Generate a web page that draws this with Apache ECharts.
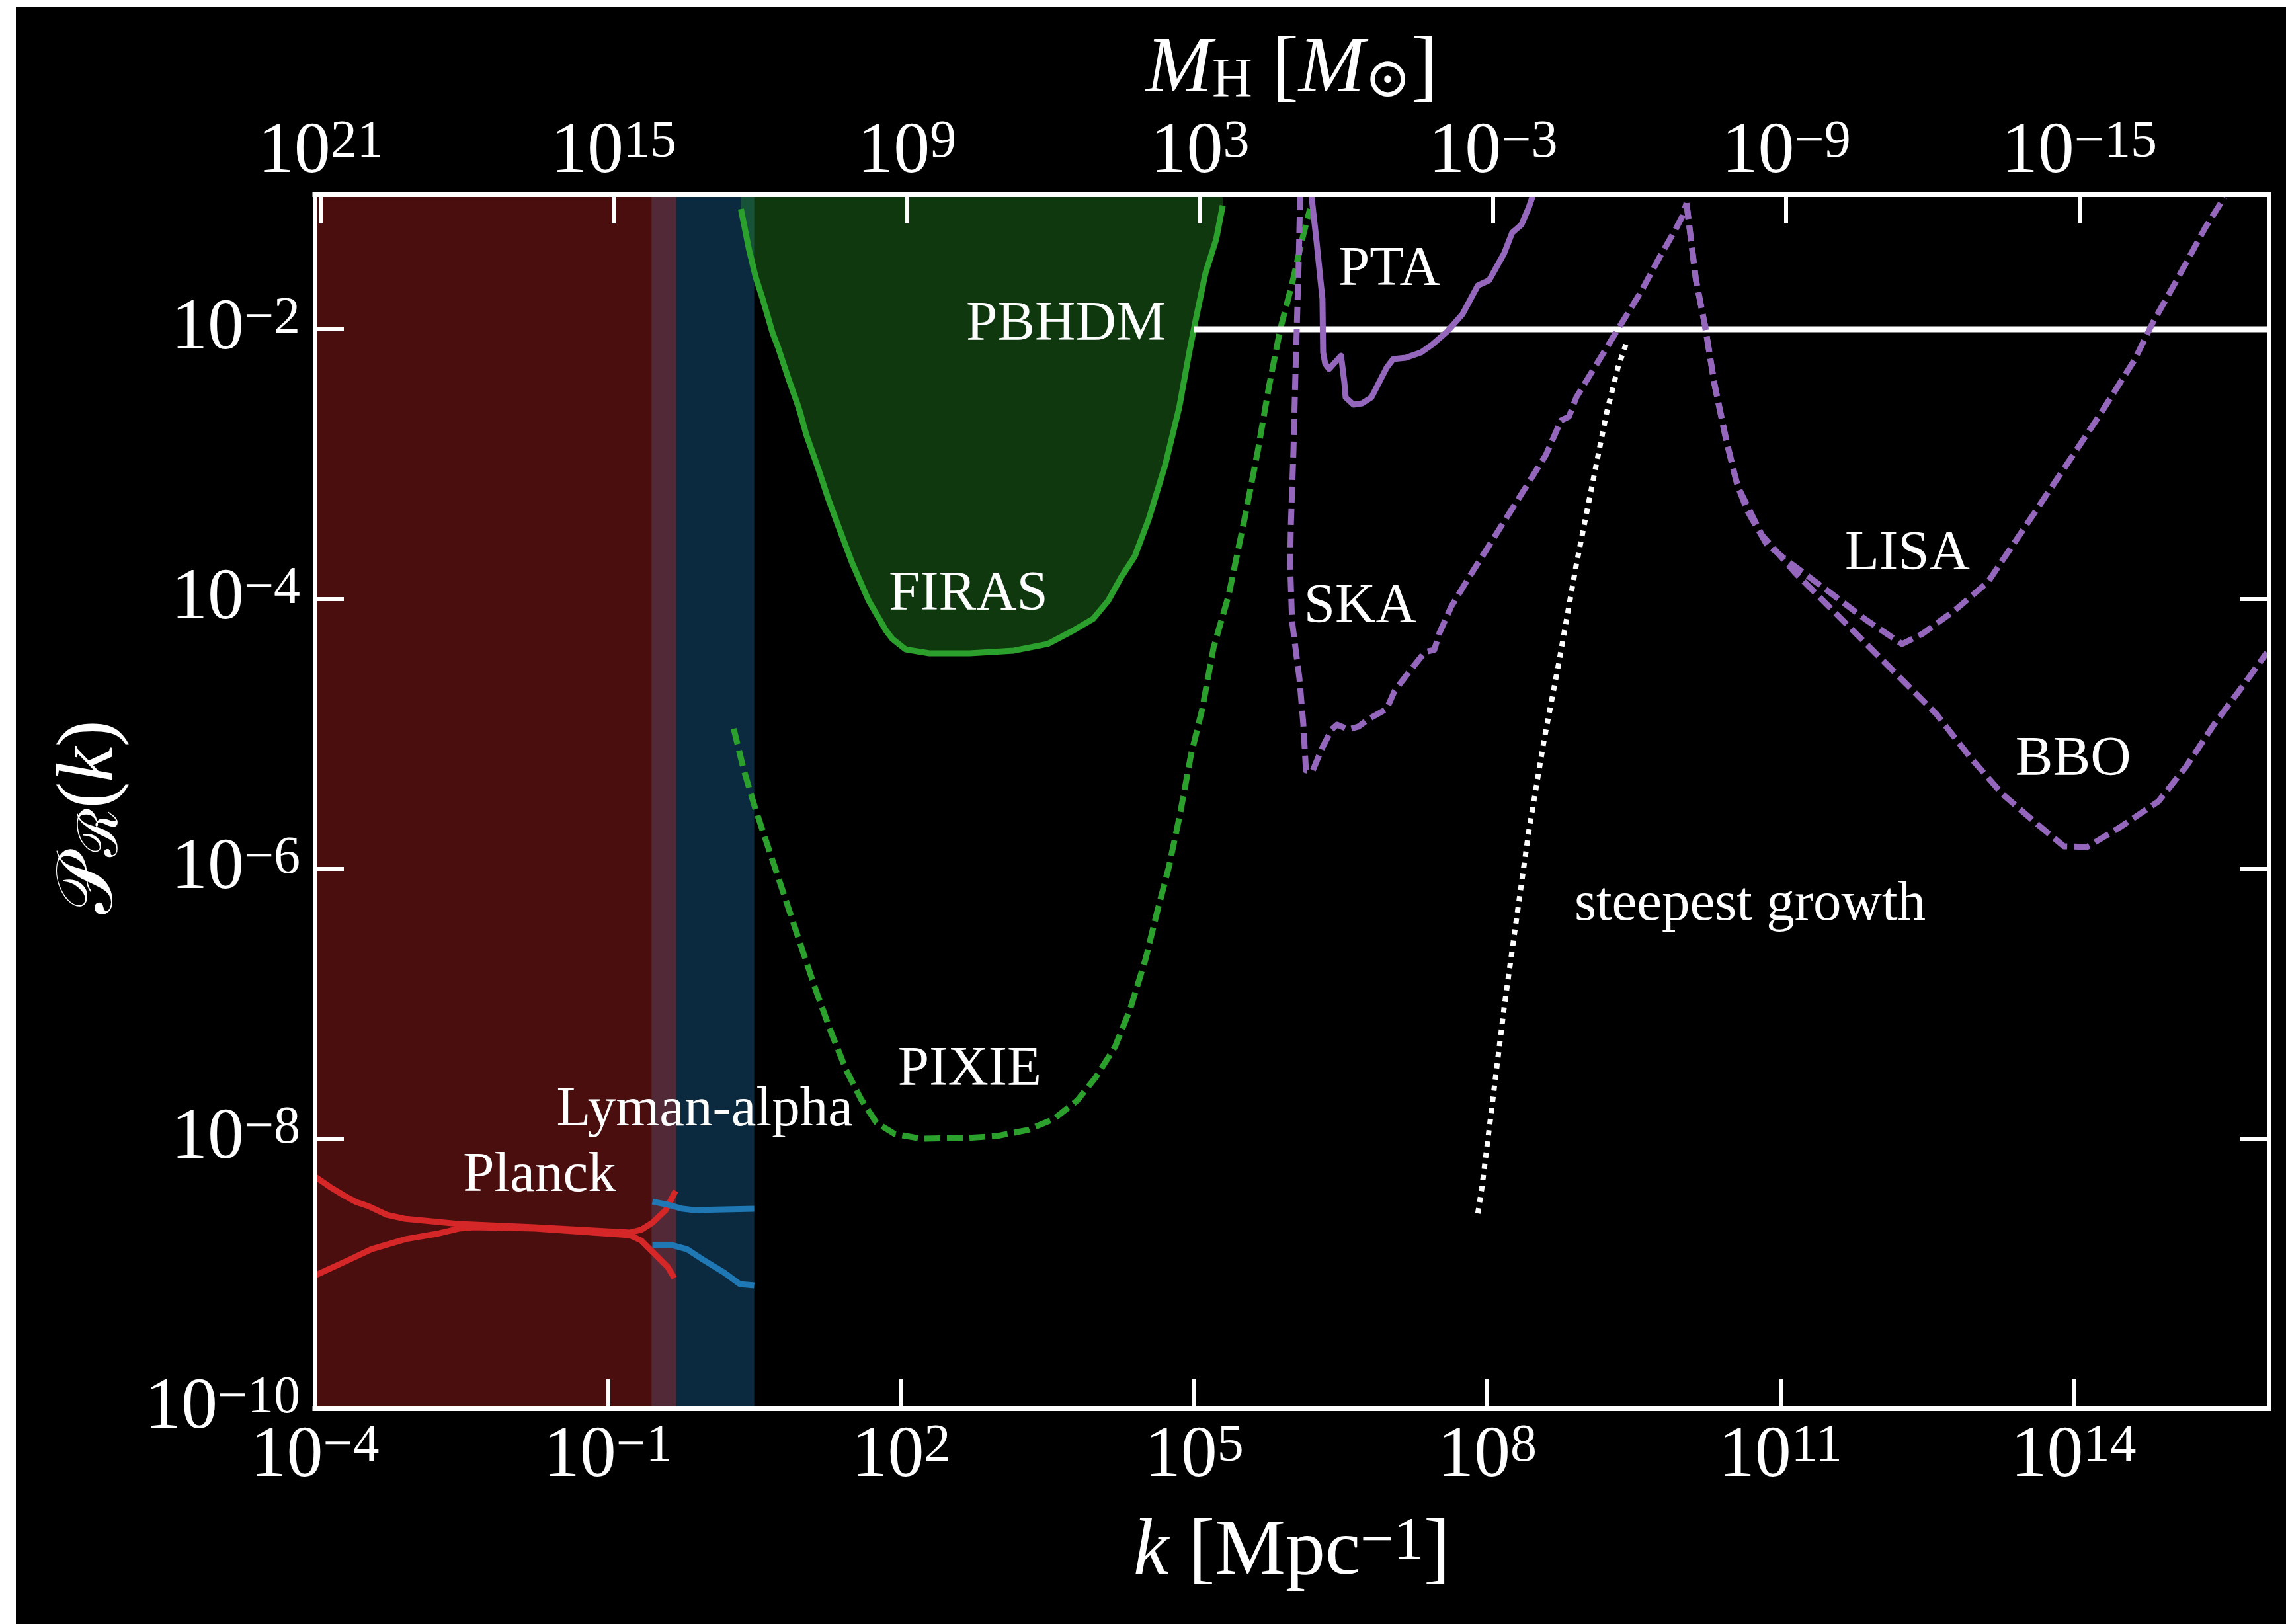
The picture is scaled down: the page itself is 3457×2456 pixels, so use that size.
<!DOCTYPE html>
<html>
<head>
<meta charset="utf-8">
<script src="https://cdn.jsdelivr.net/npm/echarts@6/dist/echarts.min.js"></script>
<style>
  html, body { margin: 0; padding: 0; background: #ffffff; }
  #chart { position: absolute; left: 24px; top: 10px; width: 3433px; height: 2446px; background: #000000; }
</style>
</head>
<body>
<div id="chart"></div>
<script>
// ---- constraint curves on the primordial curvature power spectrum, P_R(k) vs k [Mpc^-1] ----

// tick positions (decade exponents)
const kTickExps = [-4, -1, 2, 5, 8, 11, 14];
const pTickExps = [-10, -8, -6, -4, -2];
const mTickExps = [21, 15, 9, 3, -3, -9, -15];

// shaded k ranges probed by the CMB and the Lyman-alpha forest
const planckBand = [1e-4, 0.5];
const lymanBand = [0.28, 3.15];

// Planck upper / lower envelopes
const planckUpperK = [1.0e-4, 1.432e-4, 2.046e-4, 2.667e-4, 3.532e-4, 5.458e-4, 8.185e-4, 2.979e-3, 1.786e-2, 0.1683, 0.2193, 0.2858, 0.3908, 0.4932];
const planckUpperP = [5.25e-9, 4.385e-9, 3.75e-9, 3.381e-9, 3.162e-9, 2.729e-9, 2.553e-9, 2.333e-9, 2.203e-9, 2.014e-9, 2.109e-9, 2.382e-9, 2.958e-9, 4.102e-9];
const planckLowerK = [1.0e-4, 2.046e-4, 3.82e-4, 8.57e-4, 1.758e-3, 2.979e-3, 4.266e-3, 1.786e-2, 0.1683, 0.2193, 0.2858, 0.4093, 0.4786];
const planckLowerP = [9.66e-10, 1.225e-9, 1.517e-9, 1.8e-9, 1.968e-9, 2.153e-9, 2.203e-9, 2.153e-9, 1.923e-9, 1.758e-9, 1.452e-9, 1.119e-9, 9.25e-10];

// Lyman-alpha upper / lower envelopes
const lymanUpperK = [0.2858, 0.4093, 0.5848, 0.7621, 1.56, 3.148];
const lymanUpperP = [3.42e-9, 3.236e-9, 3.02e-9, 2.958e-9, 2.992e-9, 3.02e-9];
const lymanLowerK = [0.2858, 0.4487, 0.6427, 0.9183, 1.56, 2.234, 3.148];
const lymanLowerP = [1.626e-9, 1.626e-9, 1.517e-9, 1.282e-9, 1.012e-9, 8.356e-10, 8.166e-10];

// FIRAS spectral distortion limit (excluded above)
const firasK = [2.301, 2.78, 3.243, 3.855, 4.864, 5.508, 7.178, 8.531, 9.204, 10.77, 14.26, 17.99, 22.75, 31.55, 46.56, 69.82, 81.47, 111.4, 195.0, 504.7, 1432, 3170, 5902, 9268, 1.327e4, 1.811e4, 2.477e4, 3.436e4, 5.070e4, 7.031e4, 8.872e4, 1.038e5, 1.309e5, 1.683e5, 1.963e5];
const firasP = [7.80e-2, 3.917e-2, 2.466e-2, 1.663e-2, 9.354e-3, 7.379e-3, 4.150e-3, 2.924e-3, 2.466e-3, 1.644e-3, 9.247e-4, 5.559e-4, 3.499e-4, 1.862e-4, 9.772e-5, 5.888e-5, 5.082e-5, 4.236e-5, 3.963e-5, 3.963e-5, 4.150e-5, 4.645e-5, 5.888e-5, 7.129e-5, 9.772e-5, 1.469e-4, 2.084e-4, 3.917e-4, 9.886e-4, 2.612e-3, 6.592e-3, 1.172e-2, 2.612e-2, 4.645e-2, 8.260e-2];

// PIXIE forecast
const pixieK = [1.941, 2.455, 3.199, 4.571, 6.546, 9.354, 13.40, 19.14, 27.42, 39.26, 56.10, 86.70, 161.8, 474.2, 970.5, 1986, 3698, 6383, 9886, 1.552e4, 2.218e4, 3.177e4, 4.140e4, 5.483e4, 7.145e4, 9.311e4, 1.213e5, 1.578e5, 2.259e5, 3.281e5, 4.487e5, 5.848e5, 7.621e5, 1.007e6, 1.312e6, 1.535e6];
const pixieP = [1.094e-5, 5.433e-6, 2.858e-6, 1.312e-6, 6.012e-7, 2.761e-7, 1.268e-7, 6.223e-8, 3.236e-8, 1.945e-8, 1.312e-8, 1.081e-8, 1.0e-8, 1.012e-8, 1.047e-8, 1.159e-8, 1.403e-8, 1.923e-8, 2.858e-8, 4.797e-8, 9.141e-8, 2.128e-7, 4.645e-7, 1.012e-6, 2.495e-6, 7.047e-6, 1.535e-5, 4.335e-5, 1.069e-4, 3.917e-4, 1.253e-3, 3.784e-3, 1.0e-2, 2.178e-2, 5.023e-2, 7.80e-2];

// PBH dark matter threshold
const pbhdmK = [1e5, 1e16];
const pbhdmP = [1e-2, 1e-2];

// pulsar timing array limit
const ptaK = [1.585e6, 1.795e6, 1.968e6, 2.061e6, 2.094e6, 2.198e6, 2.410e6, 3.192e6, 3.451e6, 3.556e6, 4.285e6, 5.248e6, 6.531e6, 9.354e6, 1.091e7, 1.469e7, 2.099e7, 2.735e7, 3.917e7, 5.598e7, 8.017e7, 1.045e8, 1.493e8, 1.803e8, 2.239e8, 2.661e8, 2.965e8];
const ptaP = [0.1, 4.436e-2, 2.307e-2, 1.679e-2, 6.730e-3, 5.559e-3, 5.082e-3, 6.368e-3, 4.055e-3, 3.126e-3, 2.761e-3, 2.825e-3, 3.126e-3, 5.200e-3, 6.012e-3, 6.152e-3, 6.730e-3, 7.709e-3, 9.661e-3, 1.297e-2, 2.109e-2, 2.307e-2, 3.664e-2, 5.200e-2, 5.957e-2, 7.980e-2, 0.1];

// SKA forecast
const skaK = [1.219e6, 1.178e6, 1.089e6, 1.040e6, 9.772e5, 9.616e5, 1.007e6, 1.197e6, 1.312e6, 1.396e6, 1.633e6, 2.032e6, 2.564e6, 2.904e6, 3.784e6, 4.786e6, 6.039e6, 9.354e6, 1.127e7, 1.611e7, 2.307e7, 2.871e7, 3.251e7, 4.295e7, 6.653e7, 1.045e8, 1.641e8, 2.576e8, 3.990e8, 5.702e8, 6.871e8, 8.166e8, 1.406e9, 2.178e9, 3.758e9, 5.808e9, 8.318e9, 1.002e10, 1.096e10];
const skaP = [0.1, 3.199e-2, 4.592e-3, 1.253e-3, 3.420e-4, 1.799e-4, 6.808e-5, 2.582e-5, 1.186e-5, 5.370e-6, 5.309e-6, 7.798e-6, 1.081e-5, 1.172e-5, 1.081e-5, 1.132e-5, 1.282e-5, 1.535e-5, 2.084e-5, 2.924e-5, 4.055e-5, 4.198e-5, 5.623e-5, 8.831e-5, 1.486e-4, 2.495e-4, 4.198e-4, 7.047e-4, 1.172e-3, 2.109e-3, 2.254e-3, 3.126e-3, 5.957e-3, 1.0e-2, 1.901e-2, 3.420e-2, 5.370e-2, 6.966e-2, 8.610e-2];

// LISA forecast
const lisaK = [1.096e10, 1.368e10, 1.702e10, 2.113e10, 2.799e10, 3.483e10, 3.707e10, 4.613e10, 7.244e10, 1.250e11, 3.083e11, 7.482e11, 1.762e12, 2.812e12, 6.124e12, 1.334e13, 3.296e13, 8.0e13, 1.945e14, 4.236e14, 6.546e14, 1.148e15, 2.244e15, 3.524e15];
const lisaP = [8.610e-2, 2.333e-2, 1.047e-2, 3.963e-3, 1.500e-3, 7.889e-4, 6.730e-4, 4.487e-4, 2.553e-4, 1.862e-4, 1.146e-4, 7.047e-5, 4.645e-5, 5.495e-5, 8.260e-5, 1.340e-4, 3.540e-4, 9.247e-4, 2.438e-3, 5.957e-3, 1.132e-2, 2.333e-2, 5.689e-2, 9.550e-2];

// BBO forecast
const bboK = [1.096e10, 1.368e10, 1.702e10, 2.113e10, 2.799e10, 3.483e10, 3.707e10, 4.130e10, 6.486e10, 1.413e11, 3.083e11, 7.482e11, 1.820e12, 3.963e12, 8.630e12, 1.879e13, 4.093e13, 8.0e13, 1.380e14, 3.006e14, 7.413e14, 1.429e15, 2.793e15, 5.445e15, 9.550e15];
const bboP = [8.610e-2, 2.333e-2, 1.047e-2, 3.963e-3, 1.500e-3, 7.889e-4, 6.730e-4, 5.754e-4, 2.985e-4, 1.570e-4, 8.933e-5, 4.699e-5, 2.466e-5, 1.403e-5, 6.808e-6, 3.581e-6, 2.203e-6, 1.469e-6, 1.452e-6, 2.037e-6, 3.162e-6, 5.754e-6, 1.197e-5, 2.280e-5, 4.009e-5];

// steepest possible growth of the spectrum
const steepK = [8.017e7, 8.790e7, 1.148e8, 1.496e8, 2.042e8, 2.661e8, 3.802e8, 5.445e8, 8.166e8, 1.167e9, 1.671e9, 2.178e9, 2.624e9];
const steepP = [2.793e-9, 4.236e-9, 2.014e-8, 9.550e-8, 4.797e-7, 1.884e-6, 8.831e-6, 3.459e-5, 1.799e-4, 6.592e-4, 2.410e-3, 5.200e-3, 7.709e-3];

// in-plot annotations, anchored in data coordinates
const noteTexts = ['PBHDM', 'FIRAS', 'PIXIE', 'Lyman-alpha', 'Planck', 'PTA', 'SKA', 'steepest growth', 'LISA', 'BBO'];
const noteK = [4.9e3, 489, 505, 0.98, 0.020, 9.95e6, 5.0e6, 4.9e10, 2.0e12, 9.95e13];
const noteP = [1.08e-2, 1.07e-4, 3.2e-8, 1.61e-8, 5.26e-9, 2.73e-2, 8.7e-5, 5.4e-7, 2.15e-4, 6.4e-6];

// ---------------------------------------------------------------------------
const SERIF = "'Liberation Serif', 'DejaVu Serif', serif";
const WHITE = '#ffffff';
const RED = '#d62728', BLUE = '#1f77b4', GREEN = '#2ca02c', PURPLE = '#9467bd';
const LW = 9;
const DASH = [24, 10];
const DOT = [8, 9];

const zip = (ks, ps) => ks.map((k, i) => [k, ps[i]]);
const sup = v => (v < 0 ? '\u2212' + Math.abs(v) : String(v));
const tickLabel = v => '{b|10}{s|' + sup(v) + '}';

const tickRich = {
  b: { fontSize: 110, lineHeight: 110, fontFamily: SERIF, color: WHITE },
  s: { fontSize: 80, lineHeight: 52, verticalAlign: 'top', fontFamily: SERIF, color: WHITE }
};

function curve(name, ks, ps, color, type, z, extra) {
  return Object.assign({
    name: name,
    type: 'line',
    xAxisIndex: 0,
    yAxisIndex: 0,
    data: zip(ks, ps),
    symbol: 'none',
    showSymbol: false,
    smooth: false,
    z: z || 3,
    lineStyle: { color: color, width: LW, type: type || 'solid', cap: 'butt', join: 'round' },
    emphasis: { disabled: true },
    silent: true
  }, extra || {});
}

function band(name, range, color, z) {
  return {
    name: name,
    type: 'line',
    xAxisIndex: 0,
    yAxisIndex: 0,
    data: [[range[0], 1e-1], [range[1], 1e-1]],
    symbol: 'none',
    z: z,
    lineStyle: { width: 0, opacity: 0 },
    areaStyle: { color: color, opacity: 1, origin: 'start' },
    emphasis: { disabled: true },
    silent: true
  };
}

function tickAxis(base) {
  return Object.assign({
    type: 'value',
    z: 10,
    splitLine: { show: false },
    axisLine: { show: true, onZero: false, lineStyle: { color: WHITE, width: 7, cap: 'square' } },
    axisTick: { show: true, inside: true, length: 44, lineStyle: { color: WHITE, width: 6 } },
    axisLabel: { show: true, formatter: tickLabel, rich: tickRich, showMinLabel: true, showMaxLabel: true }
  }, base);
}

const kTickAxis = tickAxis({ min: -4, max: 16, position: 'bottom' });
kTickAxis.axisTick.customValues = kTickExps;
kTickAxis.axisLabel.customValues = kTickExps;
kTickAxis.axisLabel.margin = 18;

const mTickAxis = tickAxis({ min: -18.88, max: 21.12, inverse: true, position: 'top' });
mTickAxis.axisTick.customValues = mTickExps;
mTickAxis.axisLabel.customValues = mTickExps;
mTickAxis.axisLabel.margin = 8;

const pTickAxis = tickAxis({ min: -10, max: -1, position: 'left' });
pTickAxis.axisTick.customValues = pTickExps;
pTickAxis.axisLabel.customValues = pTickExps;
pTickAxis.axisLabel.margin = 22;

const pTickAxisRight = tickAxis({ min: -10, max: -1, position: 'right' });
pTickAxisRight.axisTick.customValues = pTickExps;
pTickAxisRight.axisLabel = { show: false };

const chart = echarts.init(document.getElementById('chart'), null, { renderer: 'canvas' });

chart.setOption({
  backgroundColor: '#000000',
  animation: false,
  grid: { left: 452, right: 26, top: 284, bottom: 326, containLabel: false, outerBoundsMode: 'none' },
  xAxis: [
    { type: 'log', logBase: 10, min: 1e-4, max: 1e16, show: false },
    kTickAxis,
    mTickAxis
  ],
  yAxis: [
    { type: 'log', logBase: 10, min: 1e-10, max: 1e-1, show: false },
    pTickAxis,
    pTickAxisRight
  ],
  series: [
    band('Lyman-alpha region', lymanBand, 'rgba(31,119,180,0.35)', 1),
    band('Planck region', planckBand, 'rgba(214,39,40,0.35)', 1.5),
    curve('FIRAS', firasK, firasP, GREEN, 'solid', 2, {
      areaStyle: { color: 'rgba(44,160,44,0.35)', opacity: 1, origin: 'end' }
    }),
    curve('Planck upper', planckUpperK, planckUpperP, RED),
    curve('Planck lower', planckLowerK, planckLowerP, RED),
    curve('Lyman-alpha upper', lymanUpperK, lymanUpperP, BLUE),
    curve('Lyman-alpha lower', lymanLowerK, lymanLowerP, BLUE),
    curve('PIXIE', pixieK, pixieP, GREEN, DASH),
    curve('PBHDM', pbhdmK, pbhdmP, WHITE),
    curve('PTA', ptaK, ptaP, PURPLE),
    curve('SKA', skaK, skaP, PURPLE, DASH),
    curve('LISA', lisaK, lisaP, PURPLE, DASH),
    curve('BBO', bboK, bboP, PURPLE, DASH),
    curve('steepest growth', steepK, steepP, WHITE, DOT, 3, {
      lineStyle: { color: WHITE, width: 8, type: DOT, cap: 'butt', join: 'round' }
    }),
    {
      name: 'annotations',
      type: 'scatter',
      xAxisIndex: 0,
      yAxisIndex: 0,
      z: 6,
      symbol: 'circle',
      symbolSize: 1,
      itemStyle: { color: 'rgba(0,0,0,0)' },
      silent: true,
      emphasis: { disabled: true },
      data: noteTexts.map((t, i) => ({ name: t, value: [noteK[i], noteP[i]] })),
      label: {
        show: true,
        position: 'inside',
        formatter: '{b}',
        color: WHITE,
        opacity: 1,
        fontSize: 85,
        fontFamily: SERIF
      },
      labelLayout: { hideOverlap: false }
    }
  ],
  graphic: [
    {
      type: 'text',
      x: 1929.5,
      y: 2338,
      silent: true,
      style: {
        text: '{i|k} {r|[Mpc}{s|\u22121}{r|]}',
        align: 'center',
        verticalAlign: 'middle',
        rich: {
          i: { fontSize: 120, lineHeight: 120, fontStyle: 'italic', fontFamily: SERIF, fill: WHITE, color: WHITE },
          r: { fontSize: 120, lineHeight: 120, fontFamily: SERIF, fill: WHITE, color: WHITE },
          s: { fontSize: 90, lineHeight: 44, verticalAlign: 'top', fontFamily: SERIF, fill: WHITE, color: WHITE }
        },
        fill: WHITE,
        font: '120px ' + SERIF
      }
    },
    {
      type: 'text',
      x: 1929.5,
      y: 96,
      silent: true,
      style: {
        text: '{i|M}{u|H} {r|[}{i|M}{u|\u2299}{r|]}',
        align: 'center',
        verticalAlign: 'middle',
        rich: {
          i: { fontSize: 120, lineHeight: 120, fontStyle: 'italic', fontFamily: SERIF, fill: WHITE, color: WHITE },
          r: { fontSize: 120, lineHeight: 120, fontFamily: SERIF, fill: WHITE, color: WHITE },
          u: { fontSize: 84, lineHeight: 60, verticalAlign: 'bottom', fontFamily: SERIF, fill: WHITE, color: WHITE }
        },
        fill: WHITE,
        font: '120px ' + SERIF
      }
    },
    {
      type: 'text',
      x: 113,
      y: 1226,
      rotation: Math.PI / 2,
      silent: true,
      style: {
        text: '{c|\uD835\uDCAB}{u|\u211B}{r|(}{i|k}{r|)}',
        align: 'center',
        verticalAlign: 'middle',
        rich: {
          c: { fontSize: 120, lineHeight: 120, fontFamily: SERIF, fill: WHITE, color: WHITE },
          i: { fontSize: 120, lineHeight: 120, fontStyle: 'italic', fontFamily: SERIF, fill: WHITE, color: WHITE },
          r: { fontSize: 120, lineHeight: 120, fontFamily: SERIF, fill: WHITE, color: WHITE },
          u: { fontSize: 84, lineHeight: 60, verticalAlign: 'bottom', fontFamily: SERIF, fill: WHITE, color: WHITE }
        },
        fill: WHITE,
        font: '120px ' + SERIF
      }
    }
  ]
});
</script>
</body>
</html>
